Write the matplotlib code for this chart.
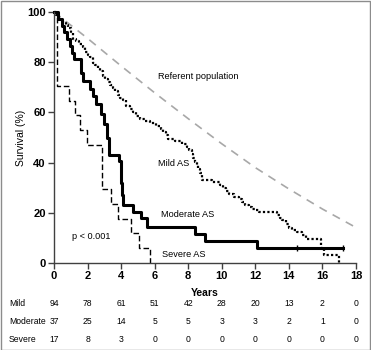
import matplotlib
matplotlib.use("Agg")
import matplotlib.pyplot as plt
from matplotlib.patches import Rectangle
import matplotlib.transforms as mtransforms

plt.rcParams['font.family'] = ['Liberation Sans', 'DejaVu Sans']

# ---- data ----
referent_t = [0, 2, 4, 6, 8, 10, 12, 14, 16, 17.9]
referent_s = [100, 89.5, 78.5, 67.8, 57.5, 47.5, 38.0, 29.5, 21.5, 14.5]

mild_t = [0, 0.1, 0.25, 0.4, 0.55, 0.7, 0.85, 1.0, 1.15, 1.3, 1.5, 1.7, 1.85, 2.0,
          2.15, 2.3, 2.45, 2.6, 2.75, 2.9, 3.05, 3.2, 3.35, 3.5, 3.65, 3.8, 3.95,
          4.1, 4.3, 4.5, 4.7, 4.9, 5.1, 5.4, 5.75, 6.1, 6.35, 6.5, 6.65, 6.8, 7.2,
          7.6, 7.9, 8.05, 8.2, 8.3, 8.4, 8.5, 8.6, 8.7, 8.8, 9.4, 9.9, 10.1, 10.25,
          10.45, 10.7, 11.0, 11.2, 11.4, 11.6, 11.8, 12.0, 12.2, 13.3, 13.45, 13.6,
          13.8, 14.0, 14.2, 14.5, 14.8, 15.0, 15.9, 16.1, 17.0]
mild_s = [100, 98.9, 97.9, 96.8, 95.7, 94.7, 93.6, 91.5, 89.4, 88.3, 87.2, 86.2, 84.0, 82.9,
          81.9, 79.8, 78.7, 77.7, 76.6, 74.5, 73.4, 72.3, 70.9, 69.8, 68.7, 67.0, 65.9,
          64.8, 62.6, 61.5, 60.3, 58.4, 57.3, 56.5, 55.6, 54.7, 53.5, 52.2, 50.9, 49.6, 48.7,
          47.6, 46.3, 45.0, 43.5, 42.0, 40.4, 39.0, 37.3, 35.7, 33.2, 32.4, 31.2, 30.0, 28.8,
          27.3, 26.3, 25.3, 24.2, 23.2, 22.4, 21.5, 21.0, 20.4, 19.2, 18.1, 17.0,
          15.6, 14.0, 13.2, 12.4, 11.0, 9.5, 6.0, 3.2, 0.0]

moderate_t = [0, 0.25, 0.45, 0.6, 0.8, 0.95, 1.1, 1.2, 1.6, 1.75, 2.14, 2.33, 2.5, 2.78,
              2.98, 3.15, 3.27, 3.85, 3.97, 4.02, 4.07, 4.13, 4.68, 5.16, 5.55, 8.39,
              8.99, 12.1, 17.2]
moderate_s = [100, 97.3, 94.6, 91.9, 89.2, 86.5, 83.8, 81.1, 75.7, 72.5, 69.5, 66.5, 63.5, 59.5,
              55.5, 50.0, 43.2, 40.5, 37.0, 32.0, 27.0, 23.0, 20.4, 17.9, 14.5, 11.6,
              8.7, 5.8, 5.8]
moderate_censor_t = [14.5, 17.2]
moderate_censor_s = [5.8, 5.8]

severe_t = [0, 0.2, 0.89, 1.23, 1.55, 1.98, 2.85, 3.42, 3.82, 4.6, 5.07, 5.75]
severe_s = [100, 70.6, 64.7, 58.8, 52.9, 47.1, 29.4, 23.5, 17.6, 11.8, 5.9, 0.0]

x_ticks = [0, 2, 4, 6, 8, 10, 12, 14, 16, 18]
y_ticks = [0, 20, 40, 60, 80, 100]

risk_labels = ["Mild", "Moderate", "Severe"]
risk_mild = [94, 78, 61, 51, 42, 28, 20, 13, 2, 0]
risk_moderate = [37, 25, 14, 5, 5, 3, 3, 2, 1, 0]
risk_severe = [17, 8, 3, 0, 0, 0, 0, 0, 0, 0]

# ---- figure ----
fig = plt.figure(figsize=(3.71, 3.50), dpi=100)
ax = fig.add_axes([54/371, 1-263/350, 302/371, 251/350])

ax.plot(referent_t, referent_s, color='#a8a8a8', lw=1.2, dashes=(5, 4), clip_on=False)
ax.step(mild_t, mild_s, where='post', color='black', lw=1.6, ls=(0, (1, 1)), clip_on=False)
ax.step(moderate_t, moderate_s, where='post', color='black', lw=2.2, clip_on=False)
ax.plot(moderate_censor_t, moderate_censor_s, ls='none', marker='|', ms=5, mew=1,
        color='black', clip_on=False)
ax.step(severe_t, severe_s, where='post', color='black', lw=1.0, dashes=(4, 2), clip_on=False)

ax.set_xlim(0, 18)
ax.set_ylim(0, 100)
ax.set_xticks(x_ticks)
ax.set_yticks(y_ticks)
for s in ['top', 'right']:
    ax.spines[s].set_visible(False)
for s in ['left', 'bottom']:
    ax.spines[s].set_color('#404040')
    ax.spines[s].set_linewidth(1.0)
ax.tick_params(axis='both', direction='out', length=4, width=1, color='#404040',
               labelsize=8, pad=2)
for lab in ax.get_xticklabels() + ax.get_yticklabels():
    lab.set_fontweight('bold')

ax.set_ylabel("Survival (%)", fontsize=7.5, labelpad=1)
fig.text(205/371, 1-293/350, "Years", ha='center', va='center', fontsize=7.5, fontweight='bold')

ax.text(6.19, 74.5, "Referent population", fontsize=6.6, va='center', ha='left')
ax.text(6.2, 39.7, "Mild AS", fontsize=6.6, va='center', ha='left')
ax.text(6.37, 19.4, "Moderate AS", fontsize=6.6, va='center', ha='left')
ax.text(6.45, 3.2, "Severe AS", fontsize=6.6, va='center', ha='left')
ax.text(1.1, 10.5, "p < 0.001", fontsize=6.6, va='center', ha='left')

# number-at-risk table
trans = mtransforms.blended_transform_factory(ax.transData, fig.transFigure)
row_y = [1-304/350, 1-321.5/350, 1-339/350]
for lbl, vals, y in zip(risk_labels, [risk_mild, risk_moderate, risk_severe], row_y):
    fig.text(9/371, y, lbl, ha='left', va='center', fontsize=6.2)
    for xt, v in zip(x_ticks, vals):
        ax.text(xt, y, str(v), transform=trans, ha='center', va='center', fontsize=6.2,
                clip_on=False)

fig.patches.append(Rectangle((0.5/371, 0.5/350), 1-1.5/371, 1-1.5/350, transform=fig.transFigure,
                             fill=False, edgecolor='#8c8c8c', lw=1.0))

fig.savefig("out.png", dpi=100)
